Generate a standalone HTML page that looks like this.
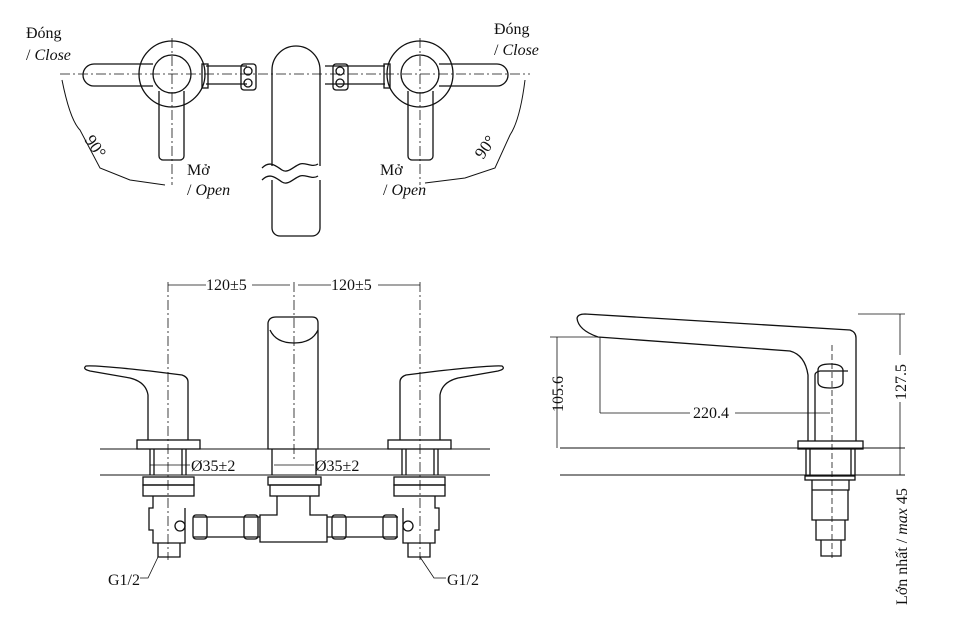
<!DOCTYPE html>
<html><head><meta charset="utf-8"><style>
html,body{margin:0;padding:0;background:#fff}
svg{display:block}
text{font-family:"Liberation Serif",serif;fill:#111}
</style></head><body>
<svg width="960" height="619" viewBox="0 0 960 619" xmlns="http://www.w3.org/2000/svg">
<g fill="none" stroke="#111" stroke-width="1.3">
<!-- TOP VIEW -->
<circle cx="172" cy="74" r="33"/>
<circle cx="172" cy="74" r="19"/>
<path d="M153 64 H94 a10 10 0 0 0 0 22 H153"/>
<path d="M159 91 V156 a4 4 0 0 0 4 4 H180 a4 4 0 0 0 4 -4 V91"/>
<circle cx="420" cy="74" r="33"/>
<circle cx="420" cy="74" r="19"/>
<path d="M439 64 H497 a10 10 0 0 1 0 22 H439"/>
<path d="M408 91 V156 a4 4 0 0 0 4 4 H429 a4 4 0 0 0 4 -4 V91"/>
<path d="M206 66 H247 M206 84 H247 M325 66 H385 M325 84 H385"/>
<rect x="202" y="64" width="6" height="24"/>
<rect x="241" y="64" width="15" height="26" rx="3"/>
<rect x="333" y="64" width="15" height="26" rx="3"/>
<rect x="384" y="64" width="6" height="24"/>
<circle cx="248" cy="71" r="4"/><circle cx="248" cy="83" r="4"/>
<circle cx="340" cy="71" r="4"/><circle cx="340" cy="83" r="4"/>
<path d="M272 228 V70 a24 24 0 0 1 48 0 V228 a8 8 0 0 1 -8 8 H280 a8 8 0 0 1 -8 -8 Z" fill="#fff"/>
<rect x="262" y="166" width="66" height="14" fill="#fff" stroke="none"/>
<path d="M262 168 c8 -8 14 -2 20 2 c6 4 12 -4 18 -6 c6 -2 12 4 18 0 M262 180 c8 -8 14 -2 20 2 c6 4 12 -4 18 -6 c6 -2 12 4 18 0"/>
<path d="M62 80 Q70 120 80 130 L100 168 L130 180 L165 185" stroke-width="1"/>
<path d="M525 80 Q520 120 510 135 L495 168 L465 178 L425 183" stroke-width="1"/>
</g>
<g stroke="#111" stroke-width="0.8" stroke-dasharray="10 3 2 3" fill="none">
<path d="M60 74 H530 M172 38 V185 M420 38 V185"/>
</g>
<text x="26" y="38" font-size="16">Đóng</text>
<text x="26" y="60" font-size="16">/ <tspan font-style="italic">Close</tspan></text>
<text x="494" y="34" font-size="16">Đóng</text>
<text x="494" y="55" font-size="16">/ <tspan font-style="italic">Close</tspan></text>
<text x="187" y="175" font-size="16">Mở</text>
<text x="187" y="195" font-size="16">/ <tspan font-style="italic">Open</tspan></text>
<text x="380" y="175" font-size="16">Mở</text>
<text x="383" y="195" font-size="16">/ <tspan font-style="italic">Open</tspan></text>
<text x="0" y="0" font-size="17" transform="translate(84,140) rotate(55)">90°</text>
<text x="0" y="0" font-size="17" transform="translate(483,160) rotate(-55)">90°</text>

<!-- FRONT VIEW -->
<g fill="none" stroke="#111" stroke-width="1.3">
<path d="M100 449 H490 M100 475 H490" stroke-width="1"/>
<g id="lh">
<path d="M148 440 V395 Q146 382 130 378 L90 371 Q82 369 86 366 Q95 365 150 371 L182 375 Q188 377 188 382 V440"/>
<rect x="137" y="440" width="63" height="9"/>
<path d="M150 449 V475 M186 449 V475 M154 449 V475 M182 449 V475"/>
<rect x="143" y="477" width="51" height="8"/><rect x="143" y="485" width="51" height="11"/>
<path d="M153 496 V508 H149 V530 H153 V543 H185 V508 M158 543 V557 H180 V543"/>
<circle cx="180" cy="526" r="5"/>
</g>
<use href="#lh" transform="translate(588,0) scale(-1,1)"/>
<path d="M268 449 V323 Q269 317 276 317 H312 Q318 317 318 323 V449 Z"/>
<path d="M270 330 Q276 343 294 343 Q312 343 318 330"/>
<path d="M272 449 V475 M316 449 V475"/>
<rect x="268" y="477" width="53" height="8"/><rect x="270" y="485" width="49" height="11"/>
<path d="M277 496 V515 H260 V542 H327 V515 H310 V496"/>
<path d="M193 517 H260 M193 537 H260 M327 517 H398 M327 537 H398"/>
<rect x="193" y="515" width="14" height="24" rx="3"/>
<rect x="244" y="515" width="14" height="24" rx="3"/>
<rect x="332" y="515" width="14" height="24" rx="3"/>
<rect x="383" y="515" width="14" height="24" rx="3"/>
</g>
<g stroke="#111" stroke-width="0.8" stroke-dasharray="10 3 2 3" fill="none">
<path d="M168 282 V560 M294 282 V460 M420 282 V560"/>
</g>
<g stroke="#111" stroke-width="0.8" fill="none">
<path d="M168 285 H206 M252 285 H290 M298 285 H331 M378 285 H420"/>
<path d="M150 465 H190 M274 465 H314"/>
<path d="M158 557 L148 578 H140 M420 557 L434 578 H446"/>
</g>
<text x="206" y="290" font-size="16">120±5</text>
<text x="331" y="290" font-size="16">120±5</text>
<text x="191" y="471" font-size="16">Ø35±2</text>
<text x="315" y="471" font-size="16">Ø35±2</text>
<text x="108" y="585" font-size="16">G1/2</text>
<text x="447" y="585" font-size="16">G1/2</text>

<!-- SIDE VIEW -->
<g fill="none" stroke="#111" stroke-width="1.3">
<path d="M577 318 Q578 314 585 314 L850 330 Q856 332 856 338 V441"/>
<path d="M577 318 Q578 330 598 337 L790 351 Q805 355 808 375 V441"/>
<path d="M815 441 V375 Q815 372 820 371 H848"/>
<path d="M818 370 Q818 364 830 364 Q842 364 843 370 V382 Q843 388 830 388 Q818 388 818 382 Z"/>
<rect x="798" y="441" width="65" height="8"/>
<path d="M806 449 V475 M855 449 V475 M810 449 V475 M851 449 V475"/>
<rect x="805" y="476" width="50" height="4"/>
<path d="M812 480 V490 H849 V480 M812 490 V520 H848 V490 M816 520 V540 H845 V520 M821 540 V556 H841 V540"/>
<path d="M560 448 H905 M560 475 H905" stroke-width="1"/>
</g>
<path d="M832 345 V560" stroke="#111" stroke-width="0.8" stroke-dasharray="6 3" fill="none"/>
<g stroke="#111" stroke-width="0.8" fill="none">
<path d="M557 337 V448 M550 337 H600 M600 337 V413 M600 413 H690 M735 413 H830"/>
<path d="M900 314 V355 M900 402 V475 M858 314 H905"/>
</g>
<text x="693" y="418" font-size="16">220.4</text>
<text font-size="16" transform="translate(563,412) rotate(-90)">105.6</text>
<text font-size="16" transform="translate(906,400) rotate(-90)">127.5</text>
<text font-size="16" transform="translate(907,605) rotate(-90)">Lớn nhất / <tspan font-style="italic">max</tspan> 45</text>
</svg>
</body></html>
